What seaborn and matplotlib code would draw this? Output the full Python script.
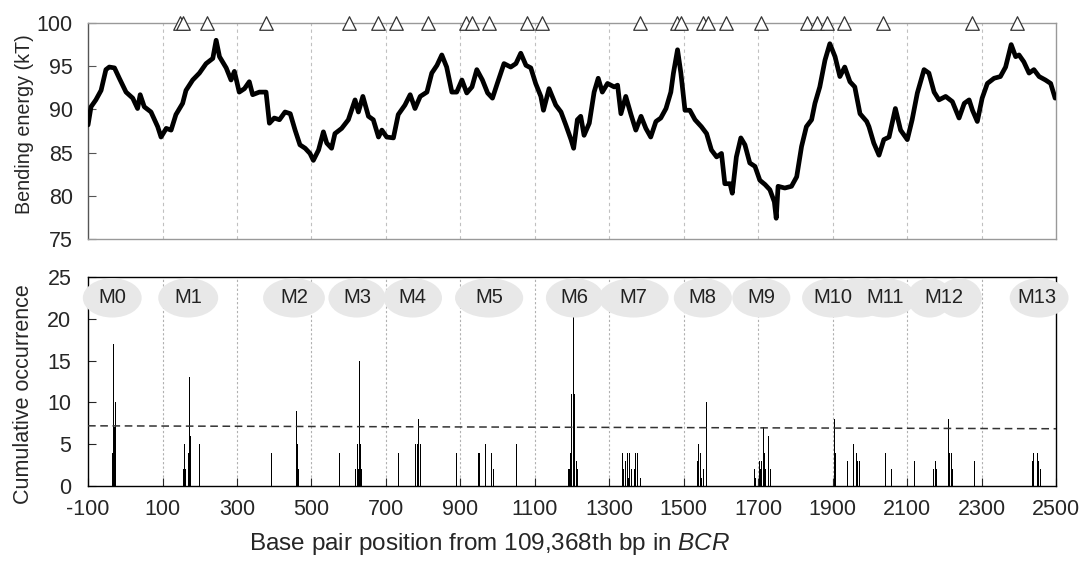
import matplotlib
matplotlib.use("Agg")
import matplotlib.pyplot as plt
from matplotlib.patches import Ellipse
import numpy as np
import pandas as pd
import seaborn as sns

# bending energy trace (bp, kT)
energy_bp = [-100, -92, -79, -65, -52, -43, -29, -16, 2, 20, 33, 40, 51, 69, 87, 96,
             110, 123, 136, 154, 163, 181, 199, 217, 235, 244, 253, 271, 284, 293,
             306, 320, 333, 342, 360, 378, 387, 400, 414, 429, 443, 456, 469, 483,
             496, 505, 519, 532, 541, 554, 563, 581, 599, 617, 626, 638, 653, 666,
             680, 689, 702, 720, 733, 751, 765, 778, 792, 810, 823, 837, 850, 863,
             877, 890, 904, 917, 931, 944, 959, 973, 986, 999, 1017, 1035, 1049,
             1062, 1076, 1089, 1102, 1116, 1123, 1138, 1156, 1170, 1183, 1197, 1204,
             1214, 1223, 1232, 1246, 1259, 1270, 1281, 1295, 1313, 1322, 1331, 1344,
             1358, 1371, 1385, 1398, 1411, 1425, 1438, 1452, 1465, 1472, 1483, 1492,
             1503, 1516, 1530, 1547, 1561, 1574, 1588, 1601, 1610, 1624, 1630, 1641,
             1653, 1664, 1677, 1691, 1704, 1718, 1731, 1743, 1748, 1753, 1771, 1789,
             1803, 1816, 1829, 1843, 1852, 1865, 1879, 1892, 1906, 1919, 1932, 1946,
             1959, 1973, 1991, 1997, 2010, 2024, 2037, 2051, 2068, 2082, 2100, 2113,
             2127, 2145, 2158, 2172, 2185, 2203, 2221, 2239, 2253, 2266, 2275, 2288,
             2301, 2315, 2333, 2350, 2364, 2379, 2391, 2400, 2413, 2427, 2440, 2454,
             2471, 2485, 2497]
energy_kt = [88.2, 90.3, 91.1, 92.2, 94.6, 94.9, 94.8, 93.6, 92.0, 91.3, 90.1, 91.7,
             90.3, 89.7, 88.0, 86.8, 87.8, 87.6, 89.4, 90.7, 92.2, 93.4, 94.2, 95.3,
             95.9, 98.0, 96.1, 94.8, 93.4, 94.4, 92.0, 92.4, 93.2, 91.7, 92.0, 92.0,
             88.4, 89.0, 88.8, 89.7, 89.5, 87.6, 85.9, 85.5, 84.9, 84.1, 85.3, 87.4,
             86.1, 85.5, 87.2, 87.8, 88.8, 91.1, 89.7, 91.5, 89.2, 88.8, 86.8, 87.6,
             86.8, 86.7, 89.4, 90.5, 91.7, 90.1, 91.5, 92.0, 94.2, 95.1, 96.3, 94.9,
             92.0, 92.0, 93.4, 91.9, 92.6, 94.6, 93.4, 91.9, 91.3, 93.0, 95.3, 94.9,
             95.3, 96.5, 95.1, 94.8, 93.0, 91.5, 89.9, 92.4, 90.5, 89.7, 88.2, 86.5,
             85.5, 88.8, 89.2, 87.0, 88.4, 92.0, 93.6, 92.0, 93.0, 92.6, 92.8, 89.5,
             91.5, 89.4, 87.6, 89.2, 87.8, 86.8, 88.6, 89.0, 90.1, 92.0, 94.2, 96.9,
             94.2, 89.9, 89.9, 88.8, 88.0, 87.2, 85.3, 84.5, 84.9, 81.4, 81.4, 80.3,
             84.5, 86.7, 85.9, 83.8, 83.4, 81.8, 81.3, 80.7, 79.3, 77.4, 81.1, 80.9,
             81.1, 82.2, 85.7, 88.0, 88.8, 90.7, 92.6, 95.7, 97.6, 96.1, 93.8, 94.9,
             93.2, 92.6, 89.5, 88.6, 88.0, 86.1, 84.7, 86.5, 86.8, 90.1, 87.6, 86.5,
             88.8, 91.9, 94.6, 94.2, 92.0, 91.1, 91.5, 90.9, 89.0, 90.7, 91.1, 89.9,
             88.6, 91.3, 93.0, 93.6, 93.8, 94.9, 97.5, 96.1, 96.3, 95.5, 94.2, 94.6,
             93.8, 93.4, 93.0, 91.3]

# open triangles along the top (bp)
site_bp = [147, 154, 219, 377, 602, 678, 727, 814, 915, 930, 977, 1078, 1118,
           1381, 1481, 1493, 1551, 1566, 1614, 1708, 1830, 1857, 1884, 1931,
           2036, 2274, 2394]

# cumulative occurrence histogram (bp, count)
hist_bp = [-34, -33, -32, -31, -30, -29, -28, -27, -26,
           156, 157, 159, 162, 166, 168, 170, 172, 173, 175, 177, 179, 195, 199,
           392, 393,
           456, 458, 460, 462, 463, 465, 467, 469, 477,
           575, 576,
           617, 619, 622, 624, 626, 629, 630, 632, 634,
           733, 734,
           780, 781, 783, 784, 786, 787, 789, 792, 794,
           890,
           948, 951, 968, 969, 984, 987, 989, 990, 993, 996, 1049, 1051,
           1190, 1193, 1195, 1197, 1199, 1200, 1202, 1204, 1206, 1208, 1211, 1213, 1215,
           1336, 1338, 1343, 1345, 1349, 1351, 1354, 1358, 1360, 1363, 1366, 1368,
           1370, 1375, 1379, 1383,
           1535, 1537, 1539, 1541, 1544, 1548, 1553, 1557, 1560, 1562,
           1690, 1692, 1703, 1705, 1708, 1712, 1714, 1716, 1718, 1720, 1723, 1727, 1733,
           1884, 1900, 1903, 1905, 1907,
           1940, 1951, 1955, 1957, 1963, 1965, 1967, 1972, 1981,
           2041, 2043, 2054, 2057, 2059,
           2119, 2121,
           2166, 2170, 2175, 2178, 2180, 2209, 2211, 2213, 2215, 2219, 2221, 2223,
           2280, 2282,
           2435, 2437, 2439, 2443, 2446, 2449, 2452, 2454, 2458, 2462]
hist_count = [4, 4, 17, 4, 7, 7, 7, 10, 4,
              2, 2, 5, 2, 5, 3, 4, 13, 6, 6, 2, 5, 2, 5,
              4, 2,
              2, 3, 9, 5, 5, 2, 5, 3, 9,
              4, 2,
              5, 2, 4, 5, 2, 15, 2, 5, 2,
              4, 2,
              5, 5, 10, 5, 5, 8, 5, 5, 2,
              4,
              4, 4, 5, 2, 4, 5, 2, 3, 2, 5, 4, 5,
              2, 2, 4, 9, 11, 3, 11, 21, 11, 2, 3, 1, 2,
              4, 2, 3, 2, 4, 1, 4, 4, 2, 3, 4, 2,
              4, 4, 3, 1,
              6, 3, 5, 2, 4, 1, 2, 3, 10, 3,
              2, 1, 3, 2, 3, 2, 7, 4, 10, 2, 3, 6, 2,
              4, 3, 2, 8, 4,
              3, 2, 5, 4, 4, 2, 3, 3, 4,
              4, 2, 4, 2, 4,
              3, 2,
              3, 2, 3, 2, 2, 4, 8, 4, 5, 4, 2, 2,
              3, 2,
              2, 3, 4, 4, 7, 4, 3, 3, 2, 2]

# threshold (dashed) line ends
thresh_bp = [-100, 2500]
thresh_val = [7.2, 6.85]

# motif regions
motif_names = ["M0", "M1", "M2", "M3", "M4", "M5", "M6", "M7", "M8", "M9",
               "M10", "M11", "M12", "M13"]
motif_bp = [-35, 169, 453, 622, 772, 977, 1207, 1365, 1551, 1708, 1900, 2041,
            2199, 2448]
blob_bp = [-35, 169, 453, 622, 772, 977, 1207, 1365, 1551, 1708, 1900, 1972,
           2041, 2160, 2240, 2454]
blob_w = [158, 161, 166, 153, 157, 183, 155, 188, 156, 156, 165, 160, 165,
          120, 120, 158]

sns.set_style("ticks")
plt.rcParams["font.family"] = ["Liberation Sans", "DejaVu Sans"]
plt.rcParams["mathtext.fontset"] = "custom"
plt.rcParams["mathtext.it"] = "Liberation Sans:italic"
plt.rcParams["mathtext.rm"] = "Liberation Sans"
plt.rcParams["axes.unicode_minus"] = False

fig = plt.figure(figsize=(10.83, 5.73), dpi=100)
ax1 = fig.add_axes([0.0813, 0.5829, 0.894, 0.377])
ax2 = fig.add_axes([0.0813, 0.1518, 0.894, 0.3648])

grid_x = list(range(100, 2400, 200))

# --- top panel: bending energy
for g in grid_x:
    ax1.axvline(g, color="#c0c0c0", ls=(0, (3, 3)), lw=0.8, zorder=0)
energy = pd.DataFrame({"bp": energy_bp, "kt": energy_kt})
sns.lineplot(data=energy, x="bp", y="kt", ax=ax1, color="black", lw=3.4,
             estimator=None, sort=False, zorder=3)
sites = pd.DataFrame({"bp": site_bp, "y": [100] * len(site_bp)})
sns.scatterplot(data=sites, x="bp", y="y", ax=ax1, marker="^", s=95,
                facecolor="white", edgecolor="#333333", linewidth=0.9,
                clip_on=False, zorder=5)
ax1.set_xlim(-100, 2500)
ax1.set_ylim(75, 100)
ax1.set_yticks(range(75, 101, 5))
ax1.set_xticks([])
ax1.set_xlabel("")
ax1.set_ylabel("Bending energy (kT)", fontsize=14.2)
ax1.yaxis.set_label_coords(-0.056, 0.53)
ax1.tick_params(axis="y", direction="in", length=6, labelsize=15.5,
                color="#555555", pad=11)
for s in ax1.spines.values():
    s.set_color("#999999")
    s.set_linewidth(1.0)
ax1.spines["left"].set_color("#555555")

# --- bottom panel: cumulative occurrence
for g in grid_x:
    ax2.axvline(g, color="#b0b0b0", ls=(0, (2, 2)), lw=0.8, zorder=0)
ax2.bar(hist_bp, hist_count, width=1.6, color="black", linewidth=0, zorder=2)
sns.lineplot(x=thresh_bp, y=thresh_val, ax=ax2, color="#333333", lw=1.1,
             ls=(0, (5, 3)), zorder=3)
for xc, w in zip(blob_bp, blob_w):
    ax2.add_patch(Ellipse((xc, 22.5), w, 4.7, facecolor="#e8e8e8",
                          edgecolor="none", clip_on=False, zorder=4))
for name, xc in zip(motif_names, motif_bp):
    ax2.text(xc, 22.5, name, ha="center", va="center", fontsize=14.5,
             color="#222222", zorder=5, clip_on=False)
ax2.set_xlim(-100, 2500)
ax2.set_ylim(0, 25)
ax2.set_xticks(range(-100, 2501, 200))
ax2.set_yticks(range(0, 26, 5))
ax2.tick_params(axis="both", direction="in", length=6, labelsize=15.5)
ax2.tick_params(axis="y", pad=12)
ax2.tick_params(axis="x", pad=9)
ax2.set_ylabel("Cumulative occurrence", fontsize=15.5)
ax2.yaxis.set_label_coords(-0.056, 0.44)
ax2.set_xlabel("Base pair position from 109,368th bp in $\\it{BCR}$",
               fontsize=17.5)
ax2.xaxis.set_label_coords(0.415, -0.215)
for s in ax2.spines.values():
    s.set_color("black")
    s.set_linewidth(1.0)

fig.savefig("out.png", dpi=100)
